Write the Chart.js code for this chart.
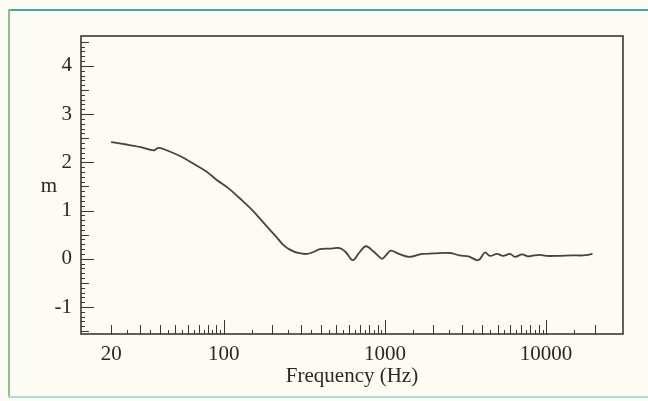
<!DOCTYPE html>
<html>
<head>
<meta charset="utf-8">
<script src="https://cdn.jsdelivr.net/npm/chart.js@4.4.1/dist/chart.umd.min.js"></script>
<style>
  html, body { margin: 0; padding: 0; background: #fcfcf5; }
  #wrap { position: relative; width: 648px; height: 401px; overflow: hidden; }
  #wrap canvas { position: absolute; left: 0; top: 0; }
  .edge { position: absolute; }
  #edgeTop { left: 8px; top: 9px; width: 640px; height: 2px; background: #4aa6a2; }
  #edgeLeft { left: 8px; top: 9px; width: 2px; height: 389px; background: #88c28e; }
  #edgeBottom { left: 8px; top: 396px; width: 640px; height: 2px; background: #b2dcd4; }
</style>
</head>
<body>
<div id="wrap">
  <div class="edge" id="edgeTop"></div>
  <div class="edge" id="edgeLeft"></div>
  <div class="edge" id="edgeBottom"></div>
  <canvas id="respChart" width="648" height="401"></canvas>
</div>
<script>
// measured curve, frequency in Hz against m
const freqHz = [
  20, 25, 30, 35, 37, 39.5, 45, 55, 65, 78, 90, 109, 125, 145, 165, 185,
  210, 232, 257, 290, 328, 360, 395, 450, 525, 570, 632, 690, 762, 850,
  955, 1000, 1088, 1200, 1410, 1700, 2000, 2540, 2900, 3300, 3800, 4170,
  4490, 4950, 5410, 5970, 6410, 7100, 7730, 8400, 9180, 10000, 11700,
  14700, 17000, 19400
];
const mValues = [
  2.42, 2.37, 2.32, 2.26, 2.25, 2.30, 2.24, 2.11, 1.97, 1.81, 1.64, 1.44,
  1.26, 1.06, 0.86, 0.67, 0.47, 0.30, 0.19, 0.12, 0.10, 0.14, 0.20, 0.21,
  0.22, 0.14, -0.03, 0.12, 0.26, 0.15, 0.00, 0.05, 0.17, 0.11, 0.04, 0.10,
  0.11, 0.12, 0.07, 0.05, -0.03, 0.13, 0.06, 0.10, 0.06, 0.10, 0.04, 0.09,
  0.05, 0.07, 0.08, 0.06, 0.06, 0.07, 0.07, 0.10
];

const xTickValues = [20, 100, 1000, 10000];
const yTickValues = [-1, 0, 1, 2, 3, 4];
const xAxisTitle = "Frequency (Hz)";
const yAxisTitle = "m";

const inkColor = "#2b2622";
const frameColor = "#3b3631";
const serif = "'Liberation Serif', 'DejaVu Serif', serif";

// frame, inward tick marks and the unrotated "m" label
const framePlugin = {
  id: "frame",
  afterDraw(chart) {
    const { ctx, chartArea: a } = chart;
    const x = chart.scales.x;
    const y = chart.scales.y;
    ctx.save();
    ctx.strokeStyle = frameColor;
    ctx.lineWidth = 1.6;
    ctx.strokeRect(a.left, a.top, a.right - a.left, a.bottom - a.top);

    ctx.lineWidth = 1;
    ctx.beginPath();
    // y axis: every 0.1, longer at halves and whole numbers
    for (let i = -15; i <= 45; i++) {
      const py = Math.round(y.getPixelForValue(i / 10)) + 0.5;
      const len = i % 10 === 0 ? 13 : (i % 5 === 0 ? 8 : 4);
      ctx.moveTo(a.left, py);
      ctx.lineTo(a.left + len, py);
    }
    // x axis: steps of half a unit in each decade, 20 Hz to 20 kHz
    for (const decade of [10, 100, 1000, 10000]) {
      for (let k = 2; k <= 20; k++) {
        const v = decade * k / 2;
        if (v < 20 || v > 20000) continue;
        const px = Math.round(x.getPixelForValue(v)) + 0.5;
        const len = k === 20 ? 14 : (k % 2 === 0 ? 9 : 4);
        ctx.moveTo(px, a.bottom);
        ctx.lineTo(px, a.bottom - len);
      }
    }
    ctx.stroke();

    ctx.fillStyle = inkColor;
    ctx.font = "21px " + serif;
    ctx.textAlign = "center";
    ctx.textBaseline = "middle";
    ctx.fillText(yAxisTitle, 49, (a.top + a.bottom) / 2 + 1);
    ctx.restore();
  }
};

new Chart(document.getElementById("respChart"), {
  type: "line",
  data: {
    datasets: [{
      data: freqHz.map((f, i) => ({ x: f, y: mValues[i] })),
      borderColor: "#4a4137",
      borderWidth: 1.8,
      pointRadius: 0,
      tension: 0.35,
      fill: false
    }]
  },
  options: {
    responsive: false,
    animation: false,
    devicePixelRatio: 1,
    layout: { padding: { top: 36, right: 25, left: 0, bottom: 0 } },
    plugins: { legend: { display: false }, tooltip: { enabled: false } },
    scales: {
      x: {
        type: "logarithmic",
        min: 13,
        max: 30000,
        grid: { display: false, drawTicks: false },
        border: { display: false },
        afterBuildTicks(scale) {
          scale.ticks = xTickValues.map(v => ({ value: v }));
        },
        afterFit(scale) { scale.height = 67; },
        ticks: {
          autoSkip: false,
          maxRotation: 0,
          padding: 8,
          color: inkColor,
          font: { family: serif, size: 21 },
          callback: v => String(v)
        },
        title: {
          display: true,
          text: xAxisTitle,
          color: inkColor,
          font: { family: serif, size: 21 },
          padding: { top: 0, bottom: 12 }
        }
      },
      y: {
        min: -1.56,
        max: 4.62,
        grid: { display: false, drawTicks: false },
        border: { display: false },
        afterBuildTicks(scale) {
          scale.ticks = yTickValues.map(v => ({ value: v }));
        },
        afterFit(scale) { scale.width = 81; },
        ticks: {
          padding: 9,
          color: inkColor,
          font: { family: serif, size: 21 },
          callback: v => String(v)
        }
      }
    }
  },
  plugins: [framePlugin]
});
</script>
</body>
</html>
